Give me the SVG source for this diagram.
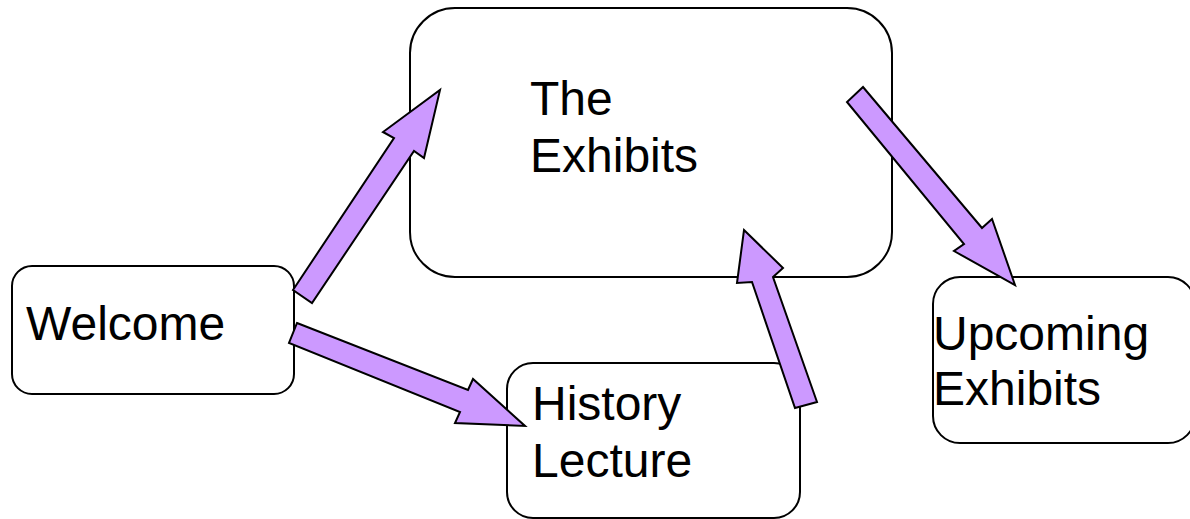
<svg xmlns="http://www.w3.org/2000/svg" width="1190" height="519" viewBox="0 0 1190 519">
  <style>
    .box { fill: #ffffff; stroke: #000000; stroke-width: 2; }
    .label { font-family: "Liberation Sans", Arial, sans-serif; font-size: 48px; fill: #000000; }
    .flow { fill: #cc99ff; stroke: #000000; stroke-width: 2; stroke-linejoin: miter; }
  </style>
  <rect width="1190" height="519" fill="#ffffff"/>

  <g id="exhibits">
    <rect class="box" x="410" y="8" width="482" height="269" rx="45" ry="45"/>
    <text class="label" x="530" y="115">The</text>
    <text class="label" x="530" y="172">Exhibits</text>
  </g>

  <g id="welcome">
    <rect class="box" x="12" y="266" width="282" height="128" rx="20" ry="20"/>
    <text class="label" x="26" y="340">Welcome</text>
  </g>

  <g id="history-lecture">
    <rect class="box" x="507" y="363" width="293" height="155" rx="26" ry="26"/>
    <text class="label" x="532" y="420">History</text>
    <text class="label" x="532" y="477">Lecture</text>
  </g>

  <g id="upcoming-exhibits">
    <rect class="box" x="933" y="277" width="262" height="166" rx="27" ry="27"/>
    <text class="label" x="933" y="350">Upcoming</text>
    <text class="label" x="933" y="405">Exhibits</text>
  </g>

  <g id="connectors">
    <!-- Welcome to The Exhibits -->
    <polygon class="flow" points="293,290 394,138 383,132 440,90 424,158 414,151 312,303"/>
    <!-- Welcome to History Lecture -->
    <polygon class="flow" points="297,323 468,390 473,379 525,426 455,423 460,412 289,343"/>
    <!-- History Lecture to The Exhibits -->
    <polygon class="flow" points="744,230 783,268 773,277 817,402 795,408 752,282 737,283"/>
    <!-- The Exhibits to Upcoming Exhibits -->
    <polygon class="flow" points="863,87 982,228 992,219 1015,285 954,251 964,244 847,102"/>
  </g>
</svg>
